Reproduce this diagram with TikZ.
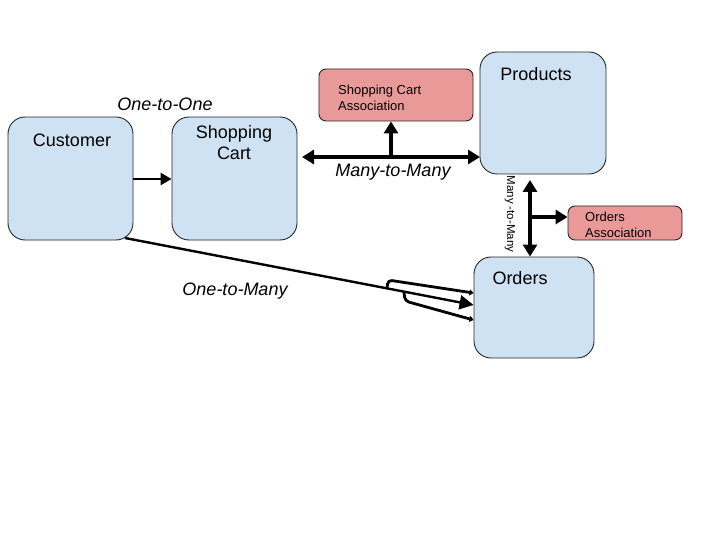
\documentclass[tikz,border=0pt]{standalone}
\usepackage{fontspec}
\setmainfont{Liberation Sans}
\usepackage{tikz}
\usetikzlibrary{arrows.meta}
\definecolor{entblue}{HTML}{CFE2F3}
\definecolor{assocpink}{HTML}{EA9999}
\tikzset{
  entity/.style={draw=black!85, fill=entblue, line width=0.9pt, rounded corners=17pt, inner sep=0pt},
  assoc/.style={draw=black!85, fill=assocpink, line width=0.9pt, rounded corners=7pt, inner sep=0pt},
  bigtext/.style={font=\fontsize{18}{21}\selectfont, align=center, inner sep=0pt},
  smalltext/.style={font=\fontsize{13}{16}\selectfont, align=left, inner sep=0pt},
  reltext/.style={font=\fontsize{18}{21}\selectfont\itshape, inner sep=0pt},
  link/.style={line width=3.5pt, -{Triangle[length=12pt, width=14pt]}},
  thinlink/.style={line width=2.8pt, -{Triangle[length=4pt, width=6pt]}},
}

\begin{document}
\begin{tikzpicture}[x=1pt, y=-1pt]
  \useasboundingbox (0,0) rectangle (720,540);
  % entities
  \node[entity, minimum width=125pt, minimum height=123pt] (cust) at (70.5,178.5) {};
  \node[entity, minimum width=125pt, minimum height=123pt] (cart) at (234.5,178.5) {};
  \node[entity, minimum width=126pt, minimum height=122pt] (prod) at (543,113) {};
  \node[entity, minimum width=120pt, minimum height=101pt] (ord) at (534,307.5) {};
  \node[bigtext] (custname) at (72,140) {Customer};
  \node[bigtext] (cartname) at (234,142.5) {Shopping\\Cart};
  \node[bigtext] (prodname) at (536,74) {Products};
  \node[bigtext] (ordname) at (520,278) {Orders};
  % associations
  \node[assoc, minimum width=154pt, minimum height=52pt] (cartassoc) at (396,95) {};
  \node[assoc, minimum width=114pt, minimum height=34pt] (ordassoc) at (625,223) {};
  \node[smalltext, anchor=west] (cartassocname) at (338,98) {Shopping Cart\\Association};
  \node[smalltext, anchor=west] (ordassocname) at (585,225) {Orders\\Association};

  % one-to-one
  \draw[link, line width=2.6pt, -{Triangle[length=11pt, width=12pt]}] (cust.east |- 0,179) -- (cart.west |- 0,179);
  \node[reltext] (onetoone) at (165,104) {One-to-One};

  % many-to-many cart / products
  \coordinate (mmleft) at (302,157);
  \coordinate (mmright) at (480,157);
  \coordinate (mmjoin) at (391,157);
  \draw[link, {Triangle[length=12pt, width=14pt]}-{Triangle[length=12pt, width=14pt]}] (mmleft) -- (mmright);
  \draw[link] (mmjoin) -- (cartassoc.south -| mmjoin);
  \node[reltext] (manytomany) at (393,172) {Many-to-Many};

  % many-to-many products / orders
  \coordinate (prodbot) at (530,180);
  \coordinate (ordjoin) at (530,217);
  \draw[link, {Triangle[length=12pt, width=14pt]}-{Triangle[length=12pt, width=14pt]}] (prodbot) -- (ord.north -| prodbot);
  \draw[link] (ordjoin) -- (ordassoc.west |- ordjoin);
  \node[font=\fontsize{11.5}{13}\selectfont, rotate=-90, inner sep=0pt] (manytomanyv) at (510,214) {Many -to-Many};

  % one-to-many
  \coordinate (custcorner) at (125,238);
  \coordinate (ordmid) at (ord.west |- 0,305);
  \draw[line width=2.4pt, -{Triangle[length=14pt, width=14pt]}] (custcorner) -- (ordmid);
  \draw[thinlink, rounded corners=4pt] (387,289) -- (388,280) -- (ord.west |- 0,293);
  \draw[thinlink, rounded corners=4pt] (404,292) -- (405,301) -- (ord.west |- 0,320);
  \node[reltext] (onetomany) at (235,291) {One-to-Many};
\end{tikzpicture}
\end{document}
